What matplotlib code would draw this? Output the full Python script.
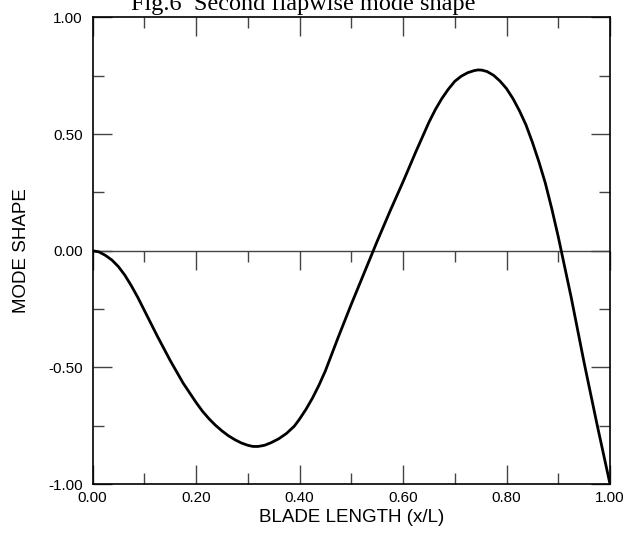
import matplotlib
matplotlib.use("Agg")
import matplotlib.pyplot as plt
from matplotlib.ticker import MultipleLocator

# ---------------------- Data -------------------

blade_x = [0.00, 0.0125, 0.025, 0.0375, 0.05, 0.0625, 0.075, 0.0875, 0.10, 0.125,
           0.15, 0.175, 0.20, 0.2125, 0.225, 0.2375, 0.25, 0.2625, 0.275, 0.2875,
           0.30, 0.31, 0.32, 0.3325, 0.345, 0.36, 0.375, 0.39, 0.40, 0.4125,
           0.425, 0.4375, 0.45, 0.475, 0.50, 0.525, 0.55, 0.575, 0.60, 0.625,
           0.65, 0.6625, 0.675, 0.6875, 0.70, 0.7125, 0.725, 0.7375, 0.745, 0.7525,
           0.7625, 0.775, 0.7875, 0.80, 0.8125, 0.825, 0.8375, 0.85, 0.8625, 0.875,
           0.8875, 0.90, 0.925, 0.95, 0.975, 1.00]
mode_shape = [0.000, -0.005, -0.020, -0.040, -0.068, -0.105, -0.150, -0.200, -0.255, -0.365,
              -0.470, -0.567, -0.650, -0.688, -0.720, -0.748, -0.772, -0.793, -0.810, -0.824,
              -0.834, -0.839, -0.839, -0.834, -0.823, -0.806, -0.783, -0.752, -0.722, -0.680,
              -0.632, -0.577, -0.515, -0.370, -0.230, -0.095, 0.040, 0.170, 0.295, 0.425,
              0.550, 0.605, 0.652, 0.692, 0.726, 0.748, 0.763, 0.772, 0.775, 0.774,
              0.768, 0.752, 0.727, 0.695, 0.652, 0.600, 0.540, 0.465, 0.382, 0.290,
              0.180, 0.060, -0.200, -0.480, -0.745, -1.000]

x_ticks = [0.0, 0.2, 0.4, 0.6, 0.8, 1.0]
y_ticks = [-1.0, -0.5, 0.0, 0.5, 1.0]

# ---------------------- Plot -------------------

plt.rcParams['font.family'] = ['Liberation Sans', 'DejaVu Sans']

fig = plt.figure(figsize=(6.25, 5.36), dpi=100)
ax = fig.add_axes([0.148, 0.097, 0.828, 0.8705])

ax.plot(blade_x, mode_shape, color='black', lw=2.0, solid_capstyle='round',
        solid_joinstyle='round')
ax.axhline(0, color='#444444', lw=1.0, zorder=1)

ax.set_xlim(0, 1)
ax.set_ylim(-1, 1)
ax.set_xticks(x_ticks)
ax.set_yticks(y_ticks)
ax.xaxis.set_minor_locator(MultipleLocator(0.1))
ax.yaxis.set_minor_locator(MultipleLocator(0.25))
ax.set_xticklabels(['%.2f' % v for v in x_ticks])
ax.set_yticklabels(['%.2f' % v for v in y_ticks])

ax.tick_params(which='both', direction='in', top=True, right=True,
               labelsize=11, color='#444444')
ax.tick_params(axis='x', pad=5)
ax.tick_params(axis='y', pad=7)
ax.tick_params(which='major', length=14, width=1.0)
ax.tick_params(which='minor', length=8, width=1.0)
for s in ax.spines.values():
    s.set_linewidth(1.2)

# ticks hanging from the zero line
zero_axis = ax.secondary_xaxis(0.5)
zero_axis.set_xticks(x_ticks)
zero_axis.xaxis.set_minor_locator(MultipleLocator(0.1))
zero_axis.tick_params(which='both', direction='in', labeltop=False, labelbottom=False,
                      color='#444444', width=1.0)
zero_axis.tick_params(which='major', length=14)
zero_axis.tick_params(which='minor', length=8)
zero_axis.spines['top'].set_visible(False)
zero_axis.spines['bottom'].set_visible(False)

ax.set_xlabel('BLADE LENGTH (x/L)', fontsize=13.5, labelpad=3)
ax.set_ylabel('MODE SHAPE', fontsize=13.5, labelpad=13)

fig.text(0.485, 0.981, 'Fig.6  Second flapwise mode shape', ha='center', va='baseline',
         fontsize=17.5, family=['Liberation Serif', 'DejaVu Serif'])

fig.savefig('out.png', dpi=100)
